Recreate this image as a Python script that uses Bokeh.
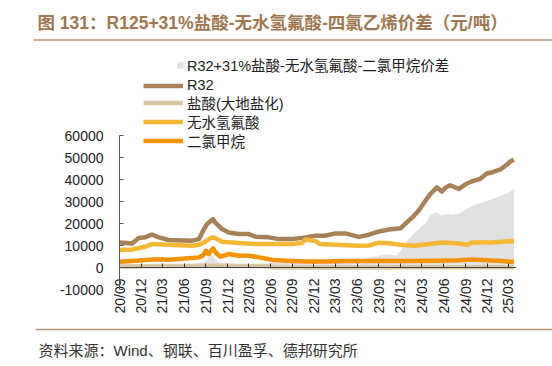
import pandas as pd
from math import pi
from bokeh.plotting import figure
from bokeh.layouts import column
from bokeh.models import (Range1d, DatetimeAxis, MonthsTicker, DatetimeTickFormatter,
                          SingleIntervalTicker, NumeralTickFormatter, Legend, LegendItem,
                          ColumnDataSource, CustomJSTickFormatter)
from bokeh.core.properties import value
from bokeh.embed import file_html
from bokeh.resources import INLINE

TITLE = "图 131：R125+31%盐酸-无水氢氟酸-四氯乙烯价差（元/吨）"
SOURCE = "资料来源：Wind、钢联、百川盈孚、德邦研究所"
series_names = ["R32+31%盐酸-无水氢氟酸-二氯甲烷价差", "R32", "盐酸(大地盐化)", "无水氢氟酸", "二氯甲烷"]

spread_dates = ["2020-09-01", "2020-12-01", "2021-03-01", "2021-07-01", "2021-09-01", "2021-09-20",
                "2021-10-01", "2021-10-20", "2021-12-01", "2022-03-01", "2022-06-01", "2022-09-01",
                "2022-12-01", "2023-03-01", "2023-06-01", "2023-08-01", "2023-10-01", "2023-11-15",
                "2023-12-01", "2023-12-20", "2024-01-10", "2024-01-27", "2024-02-10", "2024-03-01",
                "2024-03-15", "2024-04-05", "2024-05-01", "2024-05-20", "2024-06-15", "2024-07-10",
                "2024-08-04", "2024-09-07", "2024-10-01", "2024-11-01", "2024-12-01", "2024-12-25",
                "2025-02-01", "2025-03-01", "2025-03-24"]
spread_vals = [1000, 800, 600, 1000, 3000, 6000,
               5000, 2500, 1500, 1500, 2000, 2500,
               2500, 3500, 3500, 4500, 6000, 5500,
               7500, 11000, 13500, 15500, 16800, 19000,
               19800, 23600, 25100, 23600, 24300, 24000,
               24500, 26600, 28100, 29300, 30200, 31200,
               32700, 34000, 35500]

r32_dates = ["2020-09-01", "2020-10-24", "2020-11-21", "2020-12-18", "2021-01-16", "2021-02-14",
             "2021-03-28", "2021-07-04", "2021-08-02", "2021-08-19", "2021-09-06", "2021-10-01",
             "2021-10-09", "2021-11-08", "2021-12-06", "2022-01-18", "2022-03-01", "2022-03-29",
             "2022-05-24", "2022-07-06", "2022-08-31", "2022-10-26", "2022-12-07", "2023-01-15",
             "2023-03-02", "2023-04-13", "2023-06-09", "2023-07-21", "2023-09-01", "2023-10-13",
             "2023-12-01", "2023-12-28", "2024-01-27", "2024-02-17", "2024-03-08", "2024-04-05",
             "2024-05-03", "2024-05-24", "2024-06-09", "2024-06-28", "2024-08-04", "2024-09-07",
             "2024-09-29", "2024-11-02", "2024-11-30", "2024-12-23", "2025-01-26", "2025-02-23",
             "2025-03-10", "2025-03-24"]
r32_vals = [11400, 10900, 13400, 13700, 15000, 13700,
            12500, 12200, 12900, 16500, 19800, 22000,
            20500, 17500, 15900, 15200, 15200, 14000,
            13700, 12900, 12900, 13700, 14400, 14400,
            15500, 15500, 13900, 14900, 16400, 17300,
            17800, 20500, 23500, 26000, 29200, 33400,
            36400, 34500, 36400, 37400, 35700, 38200,
            39200, 40300, 42700, 43300, 44600, 46800,
            48300, 49000]

hcl_dates = ["2020-09-01", "2021-01-01", "2021-06-01", "2021-10-01", "2022-03-01", "2022-05-20",
             "2022-06-15", "2022-12-01", "2023-06-01", "2023-12-01", "2024-06-01", "2025-03-24"]
hcl_vals = [500, 600, 700, 800, 700, 600,
            100, 0, 50, 100, 150, 100]

hf_dates = ["2020-09-01", "2020-10-24", "2020-12-18", "2021-01-16", "2021-03-28", "2021-07-04",
            "2021-08-02", "2021-08-25", "2021-09-20", "2021-10-01", "2021-10-09", "2021-11-08",
            "2022-01-18", "2022-03-29", "2022-07-06", "2022-08-31", "2022-10-10", "2022-10-26",
            "2022-11-07", "2022-12-07", "2022-12-27", "2023-03-02", "2023-06-09", "2023-07-21",
            "2023-09-01", "2023-10-13", "2023-12-01", "2024-01-27", "2024-03-15", "2024-05-24",
            "2024-08-04", "2024-09-07", "2024-10-01", "2024-12-15", "2025-03-24"]
hf_vals = [7900, 8200, 9400, 10700, 10300, 9900,
           10300, 11400, 13400, 13700, 13400, 11700,
           11100, 10700, 10700, 10700, 11100, 12700,
           12500, 12000, 10700, 10300, 9900, 10000,
           11300, 11000, 10300, 9900, 10500, 11400,
           10900, 10300, 11400, 11400, 12000]

dcm_dates = ["2020-09-01", "2020-10-24", "2020-12-18", "2021-02-14", "2021-03-28", "2021-07-04",
             "2021-08-02", "2021-08-20", "2021-09-01", "2021-09-12", "2021-10-01", "2021-10-15",
             "2021-11-01", "2021-12-06", "2022-01-18", "2022-03-01", "2022-04-15", "2022-06-10",
             "2022-08-31", "2022-10-20", "2023-01-15", "2023-04-20", "2023-09-01", "2024-01-01",
             "2024-05-01", "2024-08-01", "2024-10-01", "2024-12-01", "2025-02-01", "2025-03-24"]
dcm_vals = [2600, 3000, 3400, 3800, 3500, 4300,
            4600, 5500, 7600, 6100, 8700, 6500,
            4900, 6100, 5300, 5300, 4600, 3400,
            3000, 2700, 2700, 3000, 3000, 2900,
            3100, 3300, 3600, 3300, 3000, 2500]

y_ticks_min, y_ticks_max = -10000, 60000

FONT = "Liberation Sans, Noto Sans CJK SC"
W = 552
C_SPREAD = "#E0E0E0"
C_R32 = "#A98157"
C_HCL = "#D9C6A2"
C_HF = "#F6B735"
C_DCM = "#F59200"
C_RULE = "#B49678"


def blank(height):
    f = figure(width=W, height=height, x_range=Range1d(0, W), y_range=Range1d(height, 0),
               toolbar_location=None, output_backend="svg", x_axis_type=None, y_axis_type=None,
               min_border=0, outline_line_color=None, frame_align=False)
    f.grid.visible = False
    return f


# title block (page y 0..48)
t = blank(48)
t.text(x=[37], y=[22], text=[TITLE], text_font=value(FONT), text_font_size="17.5px",
       text_font_style="bold", text_color="#A07850", text_baseline="middle")
t.segment(x0=[33], y0=[39.5], x1=[W], y1=[39.5], line_color=C_RULE, line_width=1.5)

# main chart (page y 48..319); frame spans page y 48..289, x 119..516
FRAME_H = 241
PX_PER_UNIT = 154 / (y_ticks_max - y_ticks_min)
y_top = y_ticks_min + FRAME_H / PX_PER_UNIT
p = figure(width=W, height=271, x_axis_type="datetime",
           x_range=Range1d(pd.Timestamp("2020-09-01").to_pydatetime(), pd.Timestamp("2025-04-04").to_pydatetime()),
           y_range=Range1d(y_ticks_min, y_top), toolbar_location=None, output_backend="svg",
           min_border_left=119, min_border_right=36, min_border_top=0, min_border_bottom=30,
           outline_line_color=None, frame_align=False)
p.grid.visible = False

src_sp = ColumnDataSource(dict(x=pd.to_datetime(spread_dates), y=spread_vals))
r_sp = p.varea(x="x", y1=0, y2="y", source=src_sp, fill_color=C_SPREAD)
r_r32 = p.line(pd.to_datetime(r32_dates), r32_vals, line_color=C_R32, line_width=4.5, line_join="round")
r_hcl = p.line(pd.to_datetime(hcl_dates), hcl_vals, line_color=C_HCL, line_width=4.5, line_join="round")
r_hf = p.line(pd.to_datetime(hf_dates), hf_vals, line_color=C_HF, line_width=4.5, line_join="round")
r_dcm = p.line(pd.to_datetime(dcm_dates), dcm_vals, line_color=C_DCM, line_width=4.5, line_join="round")

# y axis
ya = p.yaxis[0]
ya.bounds = (y_ticks_min, y_ticks_max)
ya.ticker = SingleIntervalTicker(interval=10000)
ya.formatter = NumeralTickFormatter(format="0")
ya.major_tick_in = 4
ya.major_tick_out = 0
ya.minor_tick_line_color = None
ya.axis_line_color = "#555555"
ya.major_tick_line_color = "#555555"
ya.major_label_standoff = 12
ya.major_label_text_font = FONT
ya.major_label_text_font_size = "14px"
ya.major_label_text_color = "#222222"

# x axis labels (frame bottom)
ticker = MonthsTicker(months=[2, 5, 8, 11])
fmt = DatetimeTickFormatter(days="%y/%m", months="%y/%m", years="%y/%m")
xa = p.xaxis[0]
xa.ticker = ticker
xa.formatter = fmt
xa.major_label_orientation = pi / 2
xa.major_label_standoff = -11
xa.major_tick_in = 0
xa.major_tick_out = 0
xa.major_tick_line_color = None
xa.minor_tick_line_color = None
xa.axis_line_color = None
xa.major_label_text_font = FONT
xa.major_label_text_font_size = "14px"
xa.major_label_text_color = "#222222"

# zero line axis with tick marks only (labels shown by the axis above)
za = DatetimeAxis(ticker=ticker, formatter=CustomJSTickFormatter(code="return ''"),
                  fixed_location=0, major_tick_in=4, major_tick_out=0,
                  minor_tick_line_color=None, axis_line_color="#444444", major_tick_line_color="#333333",
                  major_label_text_font_size="8px", major_label_standoff=0)
p.add_layout(za, "below")

# legend: one Legend per entry so each row sits where the reference has it
common = dict(padding=0, margin=0, spacing=0, label_height=15,
              label_text_font=FONT, label_text_font_size="14.5px", label_text_color="#222222",
              background_fill_alpha=0, border_line_alpha=0)
legend_rows = [(series_names[0], r_sp, 57, 214, 8, 8, 3),
               (series_names[1], r_r32, 24, 196, 40, 15, 4),
               (series_names[2], r_hcl, 24, 176, 40, 15, 4),
               (series_names[3], r_hf, 24, 157, 40, 15, 4),
               (series_names[4], r_dcm, 24, 138, 40, 15, 4)]
for name, rend, vx, vy, gw, gh, so in legend_rows:
    lg = Legend(items=[LegendItem(label=name, renderers=[rend])], location=(vx, vy),
                glyph_width=gw, glyph_height=gh, label_standoff=so, **common)
    p.add_layout(lg, "center")

# source block (page y 319..366)
s = blank(47)
s.segment(x0=[35], y0=[10], x1=[W], y1=[10], line_color=C_RULE, line_width=1.5)
s.text(x=[38], y=[30.5], text=[SOURCE], text_font=value(FONT), text_font_size="15px",
       text_color="#333333", text_baseline="middle")

layout = column(t, p, s, spacing=0)
open("out.html", "w").write(file_html(layout, INLINE))
